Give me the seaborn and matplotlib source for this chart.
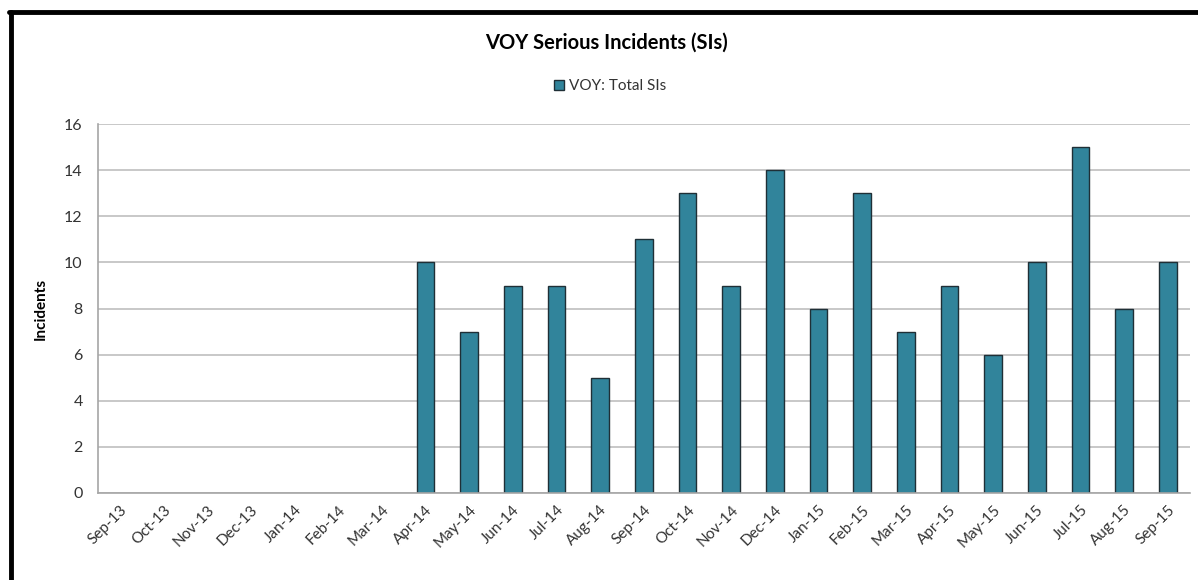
import numpy as np
import pandas as pd
import seaborn as sns
import matplotlib.pyplot as plt
from matplotlib.lines import Line2D
from matplotlib.patches import Patch

# monthly serious incidents (no data before Apr-14)
months = ['Sep-13', 'Oct-13', 'Nov-13', 'Dec-13', 'Jan-14', 'Feb-14', 'Mar-14',
          'Apr-14', 'May-14', 'Jun-14', 'Jul-14', 'Aug-14', 'Sep-14', 'Oct-14',
          'Nov-14', 'Dec-14', 'Jan-15', 'Feb-15', 'Mar-15', 'Apr-15', 'May-15',
          'Jun-15', 'Jul-15', 'Aug-15', 'Sep-15']
total_sis = [np.nan] * 7 + [10, 7, 9, 9, 5, 11, 13, 9, 14, 8, 13, 7, 9, 6, 10, 15, 8, 10]

df = pd.DataFrame({'Month': months, 'SIs': total_sis})

sns.set_style('white')
plt.rcParams['font.family'] = ['Lato', 'DejaVu Sans']

bar_color = '#31849B'
text_color = '#333333'

fig = plt.figure(figsize=(11.98, 5.8), dpi=100)
ax = fig.add_axes([0.0818, 0.15, 0.9112, 0.636])

sns.barplot(data=df, x='Month', y='SIs', order=months, color=bar_color,
            saturation=1, width=0.4, edgecolor='#1F2F36', linewidth=1.0, ax=ax)

ax.set_xlim(-0.5, len(months) - 0.5)
ax.set_ylim(0, 16)
ax.set_yticks(range(0, 17, 2))
ax.yaxis.grid(True, color='#BFBFBF', linewidth=1.2)
ax.set_axisbelow(True)

# tick marks between categories, like the spreadsheet chart
ax.set_xticks(np.arange(-0.5, len(months), 1), minor=True)
ax.tick_params(axis='x', which='major', length=0, pad=7)
ax.tick_params(axis='x', which='minor', length=6, color='#A6A6A6', width=1)
ax.tick_params(axis='y', length=5, color='#A6A6A6', width=1, pad=6)
plt.setp(ax.get_xticklabels(), rotation=45, ha='right', rotation_mode='anchor',
         fontsize=11, color=text_color)
plt.setp(ax.get_yticklabels(), fontsize=11.5, color=text_color)

for side in ['top', 'right']:
    ax.spines[side].set_visible(False)
for side in ['left', 'bottom']:
    ax.spines[side].set_color('#A6A6A6')
    ax.spines[side].set_linewidth(1.2)

ax.set_xlabel('')
ax.set_ylabel('Incidents', fontsize=11, fontweight='bold', color='black', labelpad=12)

fig.text(0.506, 0.927, 'VOY Serious Incidents (SIs)', ha='center', va='center',
         fontsize=14.5, fontweight='bold', color='black')
fig.legend(handles=[Patch(facecolor=bar_color, edgecolor='#1F2F36', label='VOY: Total SIs')],
           loc='center', bbox_to_anchor=(0.509, 0.851), frameon=False,
           fontsize=11, handlelength=0.7, handleheight=0.7, handletextpad=0.3,
           labelcolor=text_color)

# black frame on the top and left edges
fig.add_artist(Line2D([9 / 1198, 1.0], [1 - 12 / 580] * 2, color='black', linewidth=3.5,
                      transform=fig.transFigure))
fig.add_artist(Line2D([10.5 / 1198] * 2, [0.0, 1 - 12 / 580], color='black', linewidth=3.5,
                      transform=fig.transFigure))

fig.savefig('out.png', dpi=100)
